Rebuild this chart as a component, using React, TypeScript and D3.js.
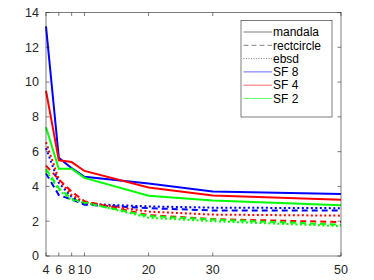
import { useEffect, useRef } from "react";
import * as d3 from "d3";

// x positions shared by every series
const xs = [4, 6, 8, 10, 20, 30, 50];
const xTicks = [4, 6, 8, 10, 20, 30, 50];
const yTicks = [0, 2, 4, 6, 8, 10, 12, 14];

// mandala (solid)
const mandalaSF8 = [13.2, 5.65, 5.05, 4.55, 4.17, 3.71, 3.57];
const mandalaSF4 = [9.5, 5.5, 5.4, 4.89, 3.94, 3.48, 3.23];
const mandalaSF2 = [7.4, 5.02, 5.02, 4.49, 3.46, 3.19, 2.92];

// rectcircle (dashed)
const rectSF8 = [4.75, 3.5, 3.25, 2.95, 2.75, 2.62, 2.62];
const rectSF4 = [5.2, 4.4, 3.7, 3.15, 2.35, 2.12, 1.95];
const rectSF2 = [5.0, 3.9, 3.3, 3.05, 2.3, 2.1, 1.8];

// ebsd (dotted)
const ebsdSF8 = [6.2, 4.2, 3.4, 3.0, 2.85, 2.78, 2.75];
const ebsdSF4 = [6.55, 4.4, 3.5, 3.1, 2.55, 2.38, 2.32];
const ebsdSF2 = [4.9, 3.8, 3.2, 3.1, 2.2, 2.0, 1.72];

const legendNames = ["mandala", "rectcircle", "ebsd", "SF 8", "SF 4", "SF 2"];

export default function App() {
  const ref = useRef(null);

  useEffect(() => {
    const width = 374, height = 280;
    const marginLeft = 46, marginRight = 33, marginTop = 12.5, marginBottom = 24;
    const svg = d3.select(ref.current);
    svg.selectAll("*").remove();

    const x = d3.scaleLinear([4, 50], [marginLeft, width - marginRight]);
    const y = d3.scaleLinear([0, 14], [height - marginBottom, marginTop]);

    const line = d3.line<number>()
      .x((d, i) => x(xs[i]))
      .y(d => y(d));

    const series = [
      { v: mandalaSF8, c: "#0000ff", dash: null },
      { v: mandalaSF4, c: "#ff0000", dash: null },
      { v: mandalaSF2, c: "#00ff00", dash: null },
      { v: rectSF8, c: "#0000ff", dash: "6,4" },
      { v: rectSF4, c: "#ff0000", dash: "6,4" },
      { v: rectSF2, c: "#00ff00", dash: "6,4" },
      { v: ebsdSF8, c: "#0000ff", dash: "2,2.5" },
      { v: ebsdSF4, c: "#ff0000", dash: "2,2.5" },
      { v: ebsdSF2, c: "#00ff00", dash: "2,2.5" },
    ];

    const axisColor = "#262626";
    const font = "'Liberation Sans', Arial, sans-serif";

    // lines
    series.forEach(s => {
      svg.append("path")
        .attr("fill", "none")
        .attr("stroke", s.c)
        .attr("stroke-width", 2)
        .attr("stroke-dasharray", s.dash)
        .attr("d", line(s.v));
    });

    // box
    const x0 = x(4), x1 = x(50), y0 = y(0), y1 = y(14);
    svg.append("rect")
      .attr("x", x0).attr("y", y1)
      .attr("width", x1 - x0).attr("height", y0 - y1)
      .attr("fill", "none").attr("stroke", axisColor).attr("stroke-width", 0.6);

    // ticks
    const tl = 3.5;
    xTicks.forEach(t => {
      svg.append("line").attr("x1", x(t)).attr("x2", x(t)).attr("y1", y0).attr("y2", y0 - tl)
        .attr("stroke", axisColor).attr("stroke-width", 0.6);
      svg.append("line").attr("x1", x(t)).attr("x2", x(t)).attr("y1", y1).attr("y2", y1 + tl)
        .attr("stroke", axisColor).attr("stroke-width", 0.6);
      svg.append("text").attr("x", x(t)).attr("y", y0 + 18)
        .attr("text-anchor", "middle").attr("font-family", font).attr("font-size", 12.5)
        .attr("fill", axisColor).text(t);
    });
    yTicks.forEach(t => {
      svg.append("line").attr("x1", x0).attr("x2", x0 + tl).attr("y1", y(t)).attr("y2", y(t))
        .attr("stroke", axisColor).attr("stroke-width", 0.6);
      svg.append("line").attr("x1", x1).attr("x2", x1 - tl).attr("y1", y(t)).attr("y2", y(t))
        .attr("stroke", axisColor).attr("stroke-width", 0.6);
      svg.append("text").attr("x", x0 - 7).attr("y", y(t) + 4.4)
        .attr("text-anchor", "end").attr("font-family", font).attr("font-size", 12.5)
        .attr("fill", axisColor).text(t);
    });

    // legend
    const lg = svg.append("g");
    lg.append("rect").attr("x", 241).attr("y", 20.5).attr("width", 91).attr("height", 96.5)
      .attr("fill", "white").attr("stroke", axisColor).attr("stroke-width", 0.6);
    const legendStyle = [
      { c: "#262626", dash: null },
      { c: "#262626", dash: "5,3" },
      { c: "#262626", dash: "1,1.5" },
      { c: "#0000ff", dash: null },
      { c: "#ff0000", dash: null },
      { c: "#00ff00", dash: null },
    ];
    legendNames.forEach((name, i) => {
      const ly = 32 + i * 13.3;
      lg.append("line").attr("x1", 243.5).attr("x2", 272).attr("y1", ly).attr("y2", ly)
        .attr("stroke", legendStyle[i].c).attr("stroke-width", 0.6)
        .attr("stroke-dasharray", legendStyle[i].dash);
      lg.append("text").attr("x", 273).attr("y", ly + 4.2)
        .attr("font-family", font).attr("font-size", 12).attr("fill", "#000").text(name);
    });
  }, []);

  return (
    <svg ref={ref} width={374} height={280}
      style={{ position: "absolute", left: 0, top: 0, background: "white" }} />
  );
}
